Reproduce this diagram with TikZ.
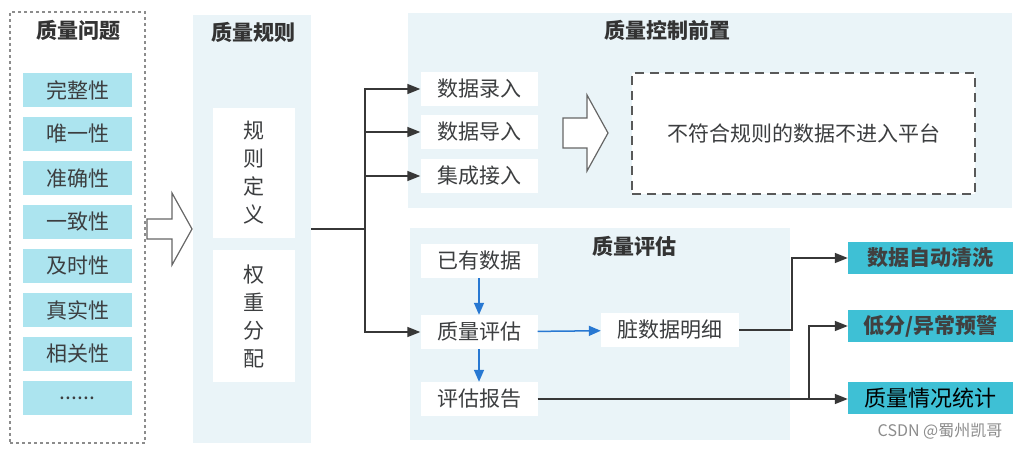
\documentclass[tikz,border=0pt]{standalone}
\usepackage{fontspec}
\setmainfont{Noto Sans CJK SC}
\usetikzlibrary{arrows.meta, positioning, calc}
\definecolor{panelbg}{RGB}{234,244,248}
\definecolor{itemcyan}{RGB}{172,228,239}
\definecolor{tealbox}{RGB}{62,192,213}
\definecolor{textgray}{RGB}{60,62,64}
\definecolor{linegray}{RGB}{55,55,55}
\definecolor{flowblue}{RGB}{40,120,210}

\begin{document}
\begin{tikzpicture}[x=1pt, y=-1pt,
  every node/.style={font=\fontsize{21}{24}\selectfont, text=textgray, inner sep=0pt},
  panel/.style={fill=panelbg, draw=none},
  title/.style={font=\fontsize{21}{24}\selectfont\bfseries, text=black!80},
  item/.style={fill=itemcyan, minimum width=109pt, minimum height=34pt},
  plain/.style={fill=white, minimum width=117pt, minimum height=34pt},
  result/.style={fill=tealbox, minimum width=165pt, minimum height=32pt, font=\fontsize{21}{24}\selectfont\bfseries, text=black!75},
  link/.style={draw=linegray, line width=1.5pt, -{Triangle[length=13pt,width=10pt]}},
  flow/.style={draw=flowblue, line width=1.5pt, -{Triangle[length=12pt,width=10pt]}},
  hollow/.style={draw=black!60, line width=1.2pt, fill=white, line join=miter}
]
  \fill[white] (0,0) rectangle (1024,449);
  \useasboundingbox (0,0) rectangle (1024,449);

  \node[draw=black!45, dash pattern=on 3pt off 3pt, line width=1.5pt, minimum width=135pt, minimum height=431pt] (issues) at (77.5,227.5) {};
  \node[title] at (78,30) {质量问题};
  \foreach \name [count=\i] in {完整性, 唯一性, 准确性, 一致性, 及时性, 真实性, 相关性}
    \node[item] (q\i) at (77.5, {90+44*(\i-1)}) {\name};
  \node[item] (q8) at (77.5,398) {......};

  \draw[hollow] (147,219) -- (172,219) -- (172,193) -- (192,229) -- (172,265) -- (172,239) -- (147,239) -- cycle;

  \node[panel, minimum width=118pt, minimum height=428pt] (rules) at (252,229) {};
  \node[title] at (253,32) {质量规则};
  \node[fill=white, minimum width=82pt, minimum height=130pt, align=center, font=\fontsize{21}{28}\selectfont] (define) at (254,173) {规\\则\\定\\义};
  \node[fill=white, minimum width=82pt, minimum height=132pt, align=center, font=\fontsize{21}{28}\selectfont] (weight) at (254,316) {权\\重\\分\\配};

  \node[panel, minimum width=604pt, minimum height=195pt] (front) at (710,110.5) {};
  \node[title] at (667,30) {质量控制前置};
  \node[plain] (entry1) at (479,89) {数据录入};
  \node[plain] (entry2) at (479,132) {数据导入};
  \node[plain] (entry3) at (479,176) {集成接入};
  \draw[hollow] (563,118) -- (587,118) -- (587,95) -- (608,133) -- (587,171) -- (587,148) -- (563,148) -- cycle;
  \node[draw=black!65, dash pattern=on 9pt off 6pt, line width=1.5pt, fill=white, minimum width=343pt, minimum height=121pt] (reject) at (803.5,133.5) {不符合规则的数据不进入平台};

  \node[panel, minimum width=380pt, minimum height=212pt] (eval) at (600,334) {};
  \node[title] at (634,246) {质量评估};
  \node[plain] (existing) at (479,261) {已有数据};
  \node[plain] (assess) at (479,332) {质量评估};
  \node[plain] (report) at (479,399) {评估报告};
  \node[plain, minimum width=138pt] (dirty) at (670,330) {脏数据明细};

  \node[result] (clean) at (930.5,258) {数据自动清洗};
  \node[result] (alert) at (930.5,326) {低分/异常预警};
  \node[result, font=\fontsize{22}{24}\selectfont, text=black] (stats) at (930.5,398) {质量情况统计};
  \node[font=\fontsize{16}{18}\selectfont, text=black!45] (mark) at (940,431) {CSDN @蜀州凯哥};

  \coordinate (trunk) at (365,229);
  \draw[draw=linegray, line width=1.5pt] (rules.east) -- (trunk);
  \foreach \t in {entry1, entry2, entry3, assess}
    \draw[link] (trunk) |- (\t.west);

  \draw[flow] (existing) -- (assess);
  \draw[flow] (assess) -- (report);
  \draw[flow] (assess) -- (dirty);

  \draw[link] (dirty.east) -- ++(53,0) |- (clean.west);
  \draw[link] (report.east) -- (report.east -| stats.west);
  \coordinate (fork) at (809,399);
  \draw[link] (fork) |- (alert.west);
\end{tikzpicture}
\end{document}
